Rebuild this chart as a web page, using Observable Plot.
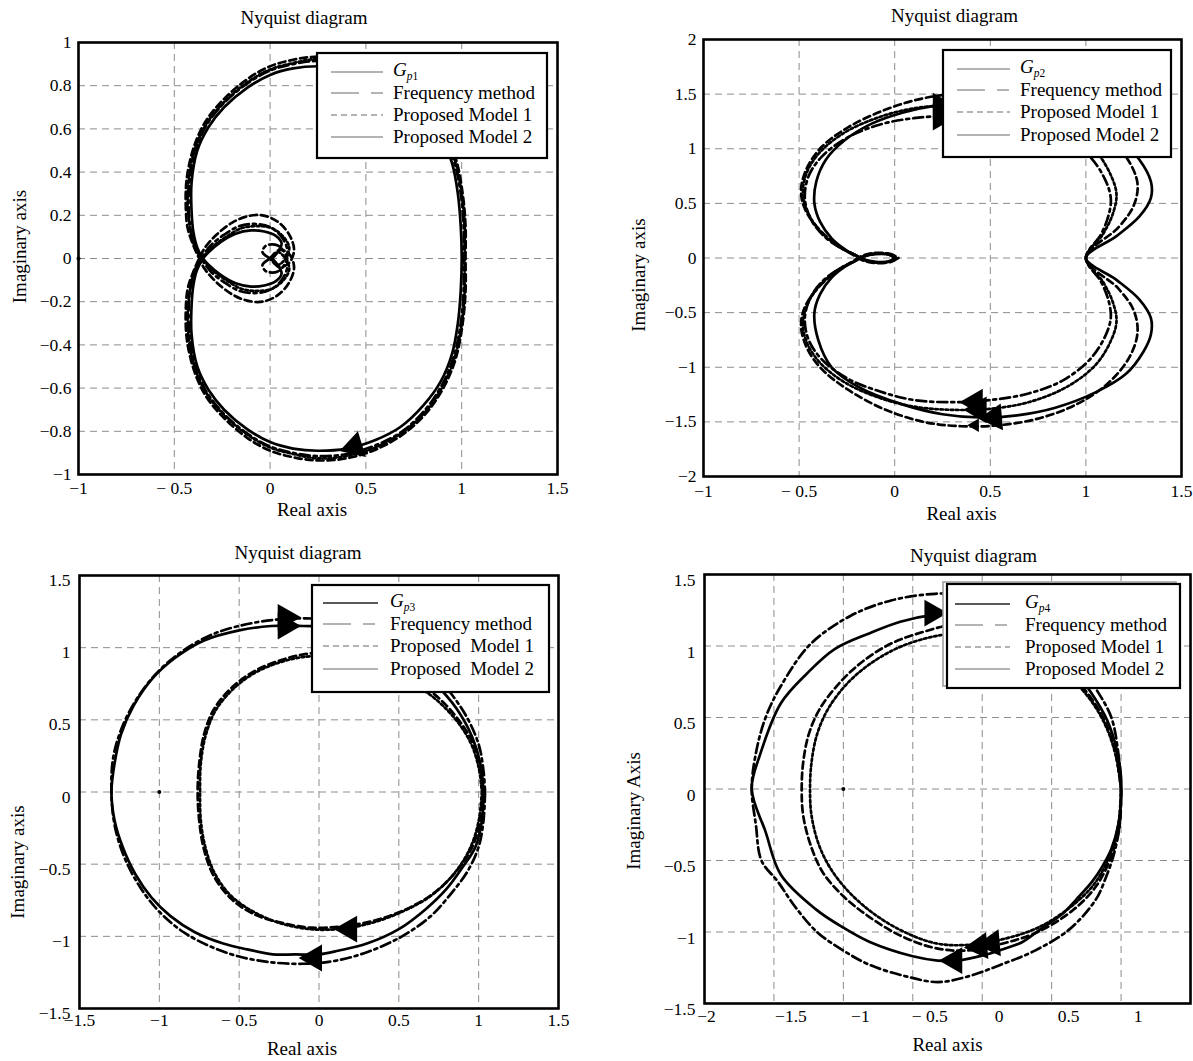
<!DOCTYPE html>
<html>
<head>
<meta charset="utf-8">
<script src="https://cdn.jsdelivr.net/npm/d3@7"></script>
<script src="https://cdn.jsdelivr.net/npm/@observablehq/plot@0.6"></script>
<style>
  html, body { margin: 0; padding: 0; background: #fff; overflow: hidden; }
  #page { position: relative; width: 1193px; height: 1061px; font-family: "Liberation Serif", "Times New Roman", serif; }
  .panel { position: absolute; }
</style>
</head>
<body>
<div id="page"></div>
<script>
// ---------- legend entries ----------
const seriesNames = ["Frequency method", "Proposed Model 1", "Proposed Model 2"];
const seriesNames3 = ["Frequency method", "Proposed  Model 1", "Proposed  Model 2"];

// ---------- tick values ----------
const ticks1X = [-1, -0.5, 0, 0.5, 1, 1.5];
const ticks1Y = [-1, -0.8, -0.6, -0.4, -0.2, 0, 0.2, 0.4, 0.6, 0.8, 1];
const ticks2X = [-1, -0.5, 0, 0.5, 1, 1.5];
const ticks2Y = [-2, -1.5, -1, -0.5, 0, 0.5, 1, 1.5, 2];
const ticks3X = [-1.5, -1, -0.5, 0, 0.5, 1, 1.5];
const ticks3Y = [-1.5, -1, -0.5, 0, 0.5, 1, 1.5];
const ticks4X = [-2, -1.5, -1, -0.5, 0, 0.5, 1, 1.5];
const ticks4Y = [-1.5, -1, -0.5, 0, 0.5, 1, 1.5];

// critical point (-1, 0)
const criticalPoint = [[-1, 0]];

// ---------- G_p1 and its approximations (real, imaginary) ----------
const p1Gp = [[0.01,0.0],[0.04,-0.03],[0.06,-0.07],[0.03,-0.105],[-0.03,-0.125],[-0.1,-0.13],[-0.18,-0.115],[-0.26,-0.075],[-0.32,-0.03],[-0.35,0.0],[-0.38,0.05],[-0.40,0.12],[-0.41,0.22],[-0.41,0.35],[-0.38,0.5],[-0.32,0.61],[-0.24,0.7],[-0.12,0.79],[0.0,0.85],[0.12,0.88],[0.25,0.89],[0.4,0.88],[0.55,0.84],[0.68,0.78],[0.8,0.68],[0.89,0.57],[0.95,0.44],[0.98,0.3],[0.995,0.15],[1.0,0.0],[0.995,-0.15],[0.98,-0.3],[0.95,-0.44],[0.89,-0.57],[0.8,-0.68],[0.68,-0.78],[0.55,-0.84],[0.4,-0.88],[0.25,-0.89],[0.12,-0.88],[0.0,-0.85],[-0.12,-0.79],[-0.24,-0.7],[-0.32,-0.61],[-0.38,-0.5],[-0.41,-0.35],[-0.41,-0.22],[-0.40,-0.12],[-0.38,-0.05],[-0.35,0.0],[-0.32,0.03],[-0.26,0.075],[-0.18,0.115],[-0.1,0.13],[-0.03,0.125],[0.03,0.105],[0.06,0.07],[0.04,0.03],[0.01,0.0]];
const p1Freq = [[0.0,0.0],[-0.04,0.03],[-0.02,0.06],[0.04,0.06],[0.08,0.02],[0.09,-0.04],[0.06,-0.1],[0.0,-0.145],[-0.08,-0.16],[-0.16,-0.15],[-0.24,-0.11],[-0.31,-0.06],[-0.36,0.0],[-0.39,0.05],[-0.415,0.13],[-0.425,0.23],[-0.42,0.36],[-0.39,0.5],[-0.33,0.62],[-0.24,0.72],[-0.12,0.81],[0.0,0.87],[0.12,0.9],[0.25,0.915],[0.4,0.905],[0.55,0.865],[0.69,0.8],[0.81,0.7],[0.9,0.58],[0.96,0.45],[0.995,0.3],[1.01,0.15],[1.01,0.0],[1.01,-0.15],[0.995,-0.3],[0.96,-0.45],[0.9,-0.58],[0.81,-0.7],[0.69,-0.8],[0.55,-0.865],[0.4,-0.905],[0.25,-0.915],[0.12,-0.9],[0.0,-0.87],[-0.12,-0.81],[-0.24,-0.72],[-0.33,-0.62],[-0.39,-0.5],[-0.42,-0.36],[-0.425,-0.23],[-0.415,-0.13],[-0.39,-0.05],[-0.36,0.0],[-0.31,0.06],[-0.24,0.11],[-0.16,0.15],[-0.08,0.16],[0.0,0.145],[0.06,0.1],[0.09,0.04],[0.08,-0.02],[0.04,-0.06],[-0.02,-0.06],[-0.04,-0.03],[0.0,0.0]];
const p1Model1 = [[0.0,0.0],[0.05,0.04],[0.1,0.02],[0.125,-0.04],[0.1,-0.11],[0.04,-0.17],[-0.04,-0.2],[-0.12,-0.195],[-0.2,-0.165],[-0.28,-0.11],[-0.34,-0.05],[-0.37,0.0],[-0.4,0.06],[-0.43,0.14],[-0.44,0.24],[-0.435,0.37],[-0.4,0.51],[-0.34,0.63],[-0.25,0.73],[-0.12,0.83],[0.0,0.89],[0.12,0.92],[0.25,0.935],[0.4,0.925],[0.55,0.885],[0.7,0.81],[0.82,0.71],[0.91,0.59],[0.97,0.46],[1.005,0.3],[1.02,0.15],[1.02,0.0],[1.02,-0.15],[1.005,-0.3],[0.97,-0.46],[0.91,-0.59],[0.82,-0.71],[0.7,-0.81],[0.55,-0.885],[0.4,-0.925],[0.25,-0.935],[0.12,-0.92],[0.0,-0.89],[-0.12,-0.83],[-0.25,-0.73],[-0.34,-0.63],[-0.4,-0.51],[-0.435,-0.37],[-0.44,-0.24],[-0.43,-0.14],[-0.4,-0.06],[-0.37,0.0],[-0.34,0.05],[-0.28,0.11],[-0.2,0.165],[-0.12,0.195],[-0.04,0.2],[0.04,0.17],[0.1,0.11],[0.125,0.04],[0.1,-0.02],[0.05,-0.04],[0.0,0.0]];
const p1Model2 = [[0.0,0.0],[0.04,0.03],[0.08,0.0],[0.1,-0.05],[0.07,-0.1],[0.01,-0.14],[-0.07,-0.15],[-0.15,-0.14],[-0.23,-0.1],[-0.3,-0.055],[-0.355,0.0],[-0.39,0.05],[-0.415,0.13],[-0.43,0.24],[-0.425,0.37],[-0.395,0.5],[-0.335,0.62],[-0.245,0.72],[-0.12,0.815],[0.0,0.875],[0.12,0.905],[0.25,0.925],[0.4,0.915],[0.55,0.875],[0.69,0.805],[0.815,0.705],[0.905,0.585],[0.965,0.455],[1.0,0.3],[1.015,0.15],[1.015,0.0],[1.015,-0.15],[1.0,-0.3],[0.965,-0.455],[0.905,-0.585],[0.815,-0.705],[0.69,-0.805],[0.55,-0.875],[0.4,-0.915],[0.25,-0.925],[0.12,-0.905],[0.0,-0.875],[-0.12,-0.815],[-0.245,-0.72],[-0.335,-0.62],[-0.395,-0.5],[-0.425,-0.37],[-0.43,-0.24],[-0.415,-0.13],[-0.39,-0.05],[-0.355,0.0],[-0.3,0.055],[-0.23,0.1],[-0.15,0.14],[-0.07,0.15],[0.01,0.14],[0.07,0.1],[0.1,0.05],[0.08,0.0],[0.04,-0.03],[0.0,0.0]];
// direction markers: position and heading (degrees clockwise from up)
const p1Arrows = [{x: 0.44, y: -0.87, heading: 253}];

// ---------- G_p2 ----------
const p2Gp = [[0.0,0.0],[-0.03,-0.03],[-0.1,-0.035],[-0.16,-0.015],[-0.2,0.02],[-0.26,0.08],[-0.33,0.18],[-0.39,0.33],[-0.42,0.5],[-0.41,0.7],[-0.36,0.9],[-0.26,1.08],[-0.12,1.23],[0.04,1.33],[0.2,1.39],[0.38,1.41],[0.58,1.39],[0.8,1.33],[1.0,1.24],[1.17,1.1],[1.28,0.9],[1.34,0.7],[1.34,0.55],[1.28,0.38],[1.16,0.2],[1.0,0.0],[1.16,-0.2],[1.28,-0.38],[1.34,-0.55],[1.34,-0.7],[1.3,-0.86],[1.21,-1.06],[1.05,-1.23],[0.84,-1.37],[0.64,-1.44],[0.45,-1.46],[0.25,-1.43],[0.04,-1.34],[-0.19,-1.18],[-0.33,-1.0],[-0.40,-0.75],[-0.42,-0.5],[-0.39,-0.33],[-0.33,-0.18],[-0.26,-0.08],[-0.2,-0.02],[-0.16,0.015],[-0.1,0.035],[-0.03,0.03],[0.0,0.0]];
const p2Freq = [[0.02,0.0],[-0.02,-0.035],[-0.1,-0.04],[-0.16,-0.015],[-0.21,0.03],[-0.28,0.09],[-0.37,0.2],[-0.44,0.36],[-0.47,0.55],[-0.45,0.75],[-0.38,0.93],[-0.25,1.1],[-0.08,1.22],[0.1,1.28],[0.3,1.3],[0.5,1.29],[0.7,1.24],[0.88,1.12],[1.02,0.93],[1.1,0.72],[1.13,0.55],[1.12,0.4],[1.08,0.22],[1.0,0.0],[1.08,-0.22],[1.12,-0.4],[1.13,-0.55],[1.1,-0.72],[1.02,-0.93],[0.88,-1.12],[0.7,-1.24],[0.5,-1.3],[0.3,-1.32],[0.1,-1.3],[-0.08,-1.22],[-0.25,-1.1],[-0.38,-0.93],[-0.45,-0.75],[-0.47,-0.55],[-0.44,-0.36],[-0.37,-0.2],[-0.28,-0.09],[-0.21,-0.03],[-0.16,0.015],[-0.1,0.04],[-0.02,0.035],[0.02,0.0]];
const p2Model1 = [[0.0,0.0],[-0.04,-0.04],[-0.11,-0.045],[-0.17,-0.02],[-0.22,0.03],[-0.3,0.12],[-0.4,0.27],[-0.47,0.45],[-0.49,0.62],[-0.46,0.82],[-0.38,1.02],[-0.24,1.2],[-0.06,1.35],[0.12,1.45],[0.3,1.5],[0.5,1.5],[0.72,1.44],[0.92,1.32],[1.1,1.14],[1.22,0.9],[1.27,0.68],[1.25,0.48],[1.17,0.28],[1.0,0.0],[1.17,-0.28],[1.25,-0.48],[1.27,-0.68],[1.23,-0.9],[1.12,-1.14],[0.95,-1.34],[0.75,-1.47],[0.55,-1.53],[0.35,-1.54],[0.15,-1.5],[-0.06,-1.38],[-0.24,-1.21],[-0.38,-1.02],[-0.46,-0.82],[-0.49,-0.62],[-0.47,-0.45],[-0.4,-0.27],[-0.3,-0.12],[-0.22,-0.03],[-0.17,0.02],[-0.11,0.045],[-0.04,0.04],[0.0,0.0]];
const p2Model2 = [[0.01,0.0],[-0.03,-0.035],[-0.1,-0.04],[-0.165,-0.015],[-0.21,0.03],[-0.29,0.1],[-0.38,0.23],[-0.45,0.4],[-0.48,0.58],[-0.46,0.78],[-0.39,0.97],[-0.26,1.15],[-0.08,1.29],[0.1,1.37],[0.3,1.4],[0.5,1.39],[0.7,1.32],[0.9,1.18],[1.05,0.98],[1.13,0.76],[1.16,0.58],[1.14,0.4],[1.09,0.22],[1.0,0.0],[1.09,-0.22],[1.14,-0.4],[1.16,-0.58],[1.13,-0.76],[1.05,-0.98],[0.9,-1.18],[0.7,-1.32],[0.5,-1.38],[0.3,-1.39],[0.1,-1.36],[-0.08,-1.28],[-0.26,-1.14],[-0.39,-0.96],[-0.46,-0.77],[-0.48,-0.58],[-0.45,-0.4],[-0.38,-0.23],[-0.29,-0.1],[-0.21,-0.03],[-0.165,0.015],[-0.1,0.04],[-0.03,0.035],[0.01,0.0]];
const p2Arrows = [
  {x: 0.24, y: 1.39, heading: 90}, {x: 0.24, y: 1.29, heading: 90},
  {x: 0.42, y: -1.32, heading: 270}, {x: 0.44, y: -1.39, heading: 270},
  {x: 0.52, y: -1.46, heading: 265}, {x: 0.42, y: -1.53, heading: 270, small: true}
];

// ---------- G_p3 ----------
const p3Gp = [[1.03,0],[1.02,-0.2],[0.98,-0.38],[0.9,-0.52],[0.8,-0.67],[0.67,-0.81],[0.5,-0.95],[0.3,-1.05],[0.12,-1.1],[0.0,-1.125],[-0.15,-1.125],[-0.29,-1.125],[-0.45,-1.09],[-0.6,-1.05],[-0.78,-0.97],[-0.93,-0.86],[-1.05,-0.73],[-1.15,-0.57],[-1.23,-0.38],[-1.28,-0.2],[-1.30,0],[-1.28,0.2],[-1.24,0.4],[-1.16,0.6],[-1.04,0.79],[-0.9,0.93],[-0.72,1.05],[-0.5,1.12],[-0.3,1.15],[-0.1,1.15],[0.1,1.14],[0.35,1.06],[0.55,0.93],[0.72,0.76],[0.86,0.58],[0.96,0.38],[1.01,0.2],[1.03,0]];
const p3Freq = [[1.04,0],[1.03,-0.2],[1.0,-0.38],[0.93,-0.55],[0.83,-0.7],[0.7,-0.86],[0.52,-1.0],[0.3,-1.11],[0.1,-1.17],[-0.1,-1.19],[-0.3,-1.18],[-0.5,-1.14],[-0.68,-1.07],[-0.85,-0.97],[-1.0,-0.83],[-1.12,-0.66],[-1.22,-0.45],[-1.28,-0.23],[-1.30,0],[-1.29,0.23],[-1.24,0.43],[-1.15,0.63],[-1.02,0.82],[-0.85,0.98],[-0.65,1.1],[-0.42,1.17],[-0.2,1.2],[0.0,1.2],[0.2,1.17],[0.45,1.07],[0.65,0.9],[0.8,0.72],[0.92,0.53],[1.0,0.33],[1.03,0.15],[1.04,0]];
const p3Model1 = [[1.03,0],[1.01,-0.2],[0.96,-0.38],[0.86,-0.55],[0.72,-0.7],[0.55,-0.81],[0.35,-0.89],[0.15,-0.93],[-0.05,-0.94],[-0.22,-0.91],[-0.4,-0.85],[-0.55,-0.74],[-0.66,-0.58],[-0.72,-0.4],[-0.75,-0.2],[-0.76,0],[-0.75,0.2],[-0.72,0.4],[-0.66,0.57],[-0.55,0.72],[-0.4,0.84],[-0.22,0.92],[-0.05,0.96],[0.15,0.95],[0.35,0.89],[0.55,0.8],[0.72,0.68],[0.86,0.52],[0.96,0.35],[1.01,0.18],[1.03,0]];
const p3Model2 = [[1.02,0],[1.0,-0.2],[0.95,-0.38],[0.85,-0.56],[0.7,-0.72],[0.52,-0.83],[0.32,-0.91],[0.12,-0.95],[-0.06,-0.95],[-0.24,-0.91],[-0.41,-0.83],[-0.55,-0.72],[-0.65,-0.57],[-0.71,-0.39],[-0.74,-0.2],[-0.745,0],[-0.74,0.2],[-0.71,0.39],[-0.65,0.56],[-0.55,0.7],[-0.41,0.82],[-0.24,0.9],[-0.06,0.94],[0.12,0.93],[0.32,0.88],[0.52,0.79],[0.7,0.67],[0.85,0.51],[0.95,0.34],[1.0,0.17],[1.02,0]];
const p3Arrows = [
  {x: -0.21, y: 1.21, heading: 90}, {x: -0.21, y: 1.15, heading: 90},
  {x: 0.19, y: -0.95, heading: 270}, {x: -0.03, y: -1.15, heading: 270}
];

// ---------- G_p4 ----------
const p4Gp = [[1.0,0],[1.0,-0.07],[0.98,-0.25],[0.93,-0.42],[0.86,-0.55],[0.79,-0.65],[0.68,-0.77],[0.57,-0.88],[0.42,-0.98],[0.29,-1.07],[0.15,-1.12],[0.02,-1.16],[-0.18,-1.2],[-0.32,-1.2],[-0.5,-1.17],[-0.81,-1.07],[-1.0,-0.97],[-1.2,-0.84],[-1.45,-0.6],[-1.56,-0.3],[-1.66,0],[-1.6,0.24],[-1.45,0.6],[-1.26,0.81],[-1.06,0.98],[-0.81,1.09],[-0.59,1.17],[-0.34,1.22],[-0.1,1.23],[0.15,1.18],[0.4,1.06],[0.62,0.88],[0.78,0.68],[0.9,0.48],[0.97,0.27],[1.0,0.08],[1.0,0]];
const p4Freq = [[1.0,0],[0.99,-0.25],[0.95,-0.45],[0.89,-0.62],[0.82,-0.77],[0.63,-0.98],[0.38,-1.13],[0.13,-1.23],[-0.1,-1.31],[-0.32,-1.35],[-0.55,-1.31],[-0.81,-1.23],[-1.0,-1.13],[-1.19,-1.0],[-1.35,-0.82],[-1.47,-0.65],[-1.59,-0.5],[-1.63,-0.25],[-1.66,0],[-1.63,0.25],[-1.56,0.5],[-1.45,0.72],[-1.24,1.01],[-0.95,1.21],[-0.65,1.32],[-0.34,1.365],[-0.1,1.36],[0.2,1.3],[0.45,1.15],[0.65,0.95],[0.82,0.7],[0.93,0.5],[0.98,0.25],[1.0,0]];
const p4Model1 = [[1.0,0],[0.99,-0.25],[0.93,-0.47],[0.82,-0.68],[0.65,-0.85],[0.4,-1.0],[0.15,-1.08],[-0.12,-1.13],[-0.35,-1.11],[-0.6,-1.02],[-0.82,-0.89],[-1.0,-0.75],[-1.15,-0.58],[-1.24,-0.38],[-1.29,-0.18],[-1.30,0],[-1.29,0.18],[-1.25,0.38],[-1.17,0.56],[-1.02,0.75],[-0.85,0.9],[-0.65,1.02],[-0.42,1.1],[-0.2,1.15],[0.05,1.14],[0.3,1.05],[0.55,0.88],[0.75,0.68],[0.88,0.48],[0.96,0.25],[1.0,0]];
const p4Model2 = [[1.0,0],[0.98,-0.25],[0.92,-0.46],[0.81,-0.66],[0.63,-0.83],[0.4,-0.97],[0.15,-1.05],[-0.1,-1.09],[-0.33,-1.08],[-0.56,-1.0],[-0.77,-0.88],[-0.95,-0.73],[-1.09,-0.56],[-1.18,-0.38],[-1.23,-0.18],[-1.24,0],[-1.23,0.18],[-1.19,0.38],[-1.11,0.56],[-0.97,0.74],[-0.8,0.88],[-0.6,0.99],[-0.38,1.06],[-0.17,1.09],[0.05,1.09],[0.3,1.01],[0.55,0.85],[0.75,0.66],[0.88,0.46],[0.96,0.24],[1.0,0]];
const p4Arrows = [
  {x: -0.36, y: 1.23, heading: 90}, {x: -0.2, y: -1.2, heading: 270},
  {x: -0.02, y: -1.1, heading: 265}, {x: 0.07, y: -1.08, heading: 265}
];

// ---------- drawing ----------
const SERIF = "'Liberation Serif', 'Times New Roman', serif";
const MINUS = "\u2212";
const fmtY = d => (d < 0 ? MINUS : "") + Math.abs(d);
const fmtX = d => (d === -0.5 ? MINUS + " 0.5" : fmtY(d));
const curveDash = [null, "10,4,3,4", "7,4", "2.6,2.6"];
const legendDash = [null, "28,12,12", "6,4", null];
const GRID = {stroke: "#8c8c8c", strokeOpacity: 1, strokeWidth: 1, strokeDasharray: "7,5"};

function drawPanel(cfg) {
  const marks = [
    Plot.gridX({...GRID, ticks: cfg.xTicks}),
    Plot.gridY({...GRID, ticks: cfg.yTicks}),
    ...cfg.series.map((s, i) => Plot.line(s, {
      x: d => d[0], y: d => d[1], curve: "catmull-rom",
      stroke: "#000", strokeWidth: 2.7, strokeDasharray: curveDash[i], strokeLinejoin: "round"
    })),
    Plot.dot(cfg.arrows.filter(a => !a.small), {x: "x", y: "y", rotate: "heading", symbol: "triangle", r: 10, fill: "#000", stroke: "none"}),
    Plot.dot(cfg.arrows.filter(a => a.small), {x: "x", y: "y", rotate: "heading", symbol: "triangle", r: 5, fill: "#000", stroke: "none"}),
    Plot.dot(cfg.critical, {x: d => d[0], y: d => d[1], r: 2, fill: "#000"}),
    Plot.frame({stroke: "#000", strokeWidth: 2.6}),
    Plot.axisY({ticks: cfg.yTicks, tickSize: 0, tickPadding: cfg.yPad, tickFormat: fmtY, label: null, dy: cfg.yTickDy || 0, fontFamily: SERIF, fontSize: 17.5}),
    Plot.text(["Nyquist diagram"], {frameAnchor: "top", dy: cfg.titleDy, dx: cfg.titleDx || 0, textAnchor: "middle", lineAnchor: "middle", fontSize: 19, fontFamily: SERIF}),
    Plot.text(["Real axis"], {frameAnchor: "bottom", dy: cfg.xLabelDy, dx: cfg.xLabelDx || 0, textAnchor: "middle", lineAnchor: "middle", fontSize: 19, fontFamily: SERIF}),
    Plot.text([cfg.yLabel], {frameAnchor: "left", dx: cfg.yLabelDx, dy: cfg.yLabelDy || 0, rotate: -90, textAnchor: "middle", lineAnchor: "middle", fontSize: 19, fontFamily: SERIF})
  ];
  for (const ax of cfg.xAxes) {
    marks.push(Plot.axisX({ticks: ax.ticks, tickSize: 0, tickPadding: cfg.xPad, tickFormat: fmtX, label: null, dx: ax.dx || 0, fontFamily: SERIF, fontSize: 17.5}));
  }
  const svg = Plot.plot({
    width: cfg.width, height: cfg.height,
    marginLeft: cfg.m[0], marginTop: cfg.m[1], marginRight: cfg.m[2], marginBottom: cfg.m[3],
    x: {domain: cfg.xDomain}, y: {domain: cfg.yDomain},
    style: {fontFamily: SERIF, fontSize: "17.5px", color: "#000", background: "transparent", overflow: "hidden"},
    marks
  });
  addLegend(svg, cfg.legend);
  const holder = document.createElement("div");
  holder.className = "panel";
  holder.style.left = cfg.left + "px";
  holder.style.top = cfg.top + "px";
  holder.style.width = cfg.width + "px";
  holder.appendChild(svg);
  document.getElementById("page").appendChild(holder);
}

// boxed legend drawn inside the plot area
function addLegend(svg, L) {
  const g = d3.select(svg).append("g")
    .attr("font-size", 19).attr("font-family", SERIF).attr("fill", "#000").attr("text-anchor", "start");
  if (L.shadow) {
    g.append("rect").attr("x", L.x0 - 4).attr("y", L.y0 - 2).attr("width", L.x1 - L.x0).attr("height", L.y1 - L.y0)
      .attr("fill", "#fff").attr("stroke", "#999").attr("stroke-width", 1.5);
  }
  g.append("rect").attr("x", L.x0).attr("y", L.y0).attr("width", L.x1 - L.x0).attr("height", L.y1 - L.y0)
    .attr("fill", "#fff").attr("stroke", "#000").attr("stroke-width", 2.2);
  L.rows.forEach((y, i) => {
    g.append("line").attr("x1", L.s0).attr("x2", L.s1).attr("y1", y).attr("y2", y)
      .attr("stroke", i === 0 && L.darkFirst ? "#222" : "#9a9a9a").attr("stroke-width", 1.3)
      .attr("stroke-dasharray", legendDash[i]);
    const t = g.append("text").attr("x", L.tx).attr("y", y - (i === 0 ? 2 : 0)).attr("dy", "0.32em");
    if (i === 0) {
      t.append("tspan").attr("font-style", "italic").text("G");
      t.append("tspan").attr("font-style", "italic").attr("font-size", 11.5).attr("dy", 4).text("p");
      t.append("tspan").attr("font-size", 11.5).text(L.index);
    } else {
      t.text(L.names[i - 1]);
    }
  });
}

drawPanel({
  left: 0, top: 0, width: 596, height: 530, m: [78, 42, 39, 56],
  xDomain: [-1, 1.5], yDomain: [-1, 1], xTicks: ticks1X, yTicks: ticks1Y,
  xAxes: [{ticks: ticks1X}], xPad: 7, yPad: 7,
  series: [p1Gp, p1Freq, p1Model1, p1Model2], arrows: p1Arrows, critical: criticalPoint,
  titleDy: -25, titleDx: -14, xLabelDy: 35, xLabelDx: -6, yLabel: "Imaginary axis", yLabelDx: -59, yLabelDy: -12,
  legend: {x0: 317, y0: 53, x1: 547, y1: 158, s0: 331, s1: 383, tx: 393, rows: [72, 93, 115, 137], index: "1", names: seriesNames}
});

drawPanel({
  left: 597, top: 0, width: 596, height: 530, m: [106, 39, 12, 54],
  xDomain: [-1, 1.5], yDomain: [-2, 2], xTicks: ticks2X, yTicks: ticks2Y,
  xAxes: [{ticks: ticks2X}], xPad: 8, yPad: 7,
  series: [p2Gp, p2Freq, p2Model1, p2Model2], arrows: p2Arrows, critical: [],
  titleDy: -24, titleDx: 12, xLabelDy: 37, xLabelDx: 19, yLabel: "Imaginary axis", yLabelDx: -65, yLabelDy: 17,
  legend: {x0: 346, y0: 50, x1: 574, y1: 157, s0: 360, s1: 413, tx: 423, rows: [69, 90, 112, 135], index: "2", names: seriesNames}
});

drawPanel({
  left: 0, top: 530, width: 596, height: 531, m: [79, 45, 38, 53],
  xDomain: [-1.5, 1.5], yDomain: [-1.5, 1.5], xTicks: ticks3X, yTicks: ticks3Y,
  xAxes: [{ticks: ticks3X}], xPad: 5, yPad: 9, yTickDy: 5,
  series: [p3Gp, p3Freq, p3Model1, p3Model2], arrows: p3Arrows, critical: criticalPoint,
  titleDy: -23, titleDx: -21, xLabelDy: 40, xLabelDx: -17, yLabel: "Imaginary axis", yLabelDx: -62, yLabelDy: 70,
  legend: {x0: 312, y0: 55, x1: 549, y1: 162, s0: 323, s1: 378, tx: 390, rows: [73, 94, 116, 139], index: "3", names: seriesNames3, darkFirst: true}
});

drawPanel({
  left: 597, top: 530, width: 596, height: 531, m: [107, 44, 3, 58],
  xDomain: [-2, 1.5], yDomain: [-1.5, 1.5], xTicks: ticks4X, yTicks: ticks4Y,
  xAxes: [{ticks: [-2], dx: 2}, {ticks: ticks4X.slice(1), dx: 17}], xPad: 6, yPad: 9, yTickDy: 6,
  series: [p4Gp, p4Freq, p4Model1, p4Model2], arrows: p4Arrows, critical: criticalPoint,
  titleDy: -19, titleDx: 26, xLabelDy: 41, xLabelDx: 0, yLabel: "Imaginary Axis", yLabelDx: -71, yLabelDy: 22,
  legend: {x0: 350, y0: 54, x1: 583, y1: 158, s0: 358, s1: 413, tx: 428, rows: [74, 95, 117, 139], index: "4", names: seriesNames, shadow: true, darkFirst: true}
});
</script>
</body>
</html>
